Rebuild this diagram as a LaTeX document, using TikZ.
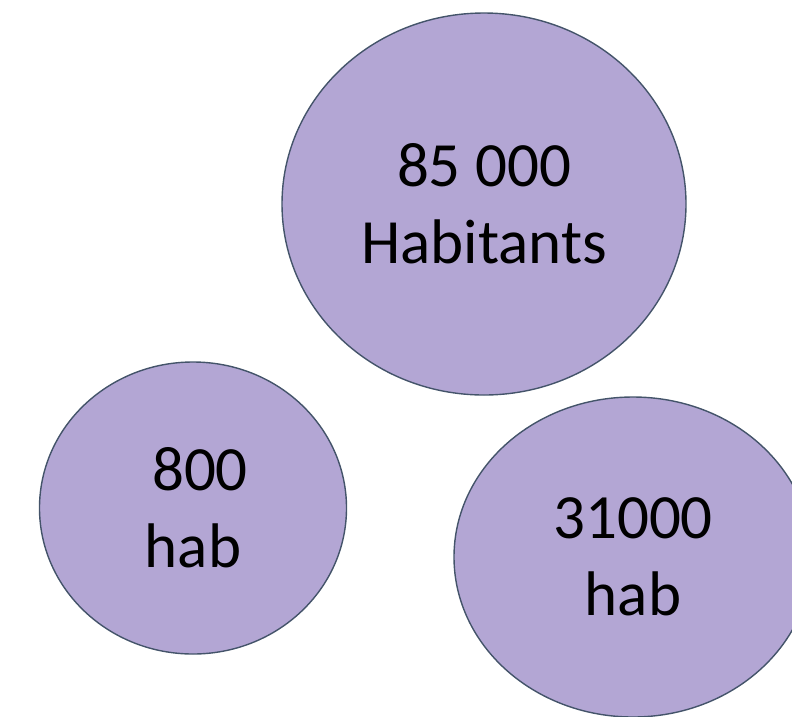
\documentclass[tikz,border=0pt]{standalone}
\usepackage{fontspec}
\setmainfont{Carlito}
\usepackage{xcolor}
\definecolor{lavande}{HTML}{B3A6D4}
\definecolor{contour}{HTML}{44546A}
\usepackage{tikz}
\usetikzlibrary{shapes.geometric}

\begin{document}
\begin{tikzpicture}[x=1pt,y=-1pt,
  ville/.style={ellipse,draw=contour,fill=lavande,line width=1.4pt,inner sep=0pt,
    align=center,font=\fontsize{63}{77}\selectfont}]
\useasboundingbox (0,0) rectangle (792,716);
\node[ville,minimum width=404pt,minimum height=382pt] (grand) at (484,204) {85 000\\Habitants};
\node[ville,minimum width=307pt,minimum height=292pt] (petit) at (193,508) {\hspace{14pt}800\\hab};
\node[ville,minimum width=358pt,minimum height=320pt] (moyen) at (633,557) {31000\\hab};%
\end{tikzpicture}
\end{document}
